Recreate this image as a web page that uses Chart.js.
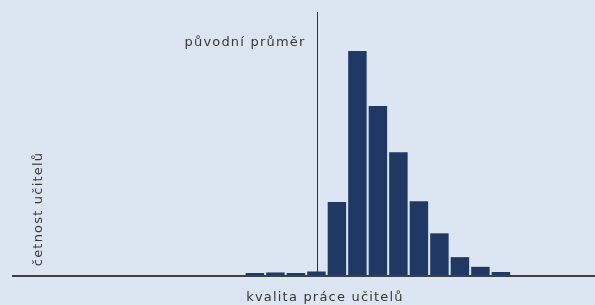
<!DOCTYPE html>
<html>
<head>
<meta charset="utf-8">
<script src="https://cdn.jsdelivr.net/npm/chart.js@4"></script>
<style>
  html, body { margin: 0; padding: 0; background: #dce6f2; }
  #wrap { width: 595px; height: 305px; }
</style>
</head>
<body>
<div id="wrap"><canvas id="chart"></canvas></div>
<script>
// quality bins (teacher quality levels) and share of teachers in each, %
const qualityBins = [1, 2, 3, 4, 5, 6, 7, 8, 9, 10, 11, 12, 13];
const teacherShare = [0.27, 0.34, 0.27, 0.47, 9.8, 30.1, 22.7, 16.5, 9.9, 5.6, 2.4, 1.1, 0.4];
const originalMean = 4.05;

const meanLabel = 'původní průměr';
const xTitle = 'kvalita práce učitelů';
const yTitle = 'četnost učitelů';

const TEXT = '#383838';
const FONT = '13px "DejaVu Sans", Verdana, sans-serif';

const decorPlugin = {
  id: 'decor',
  beforeDraw(chart) {
    const c = chart.ctx;
    c.save();
    c.fillStyle = '#dce6f2';
    c.fillRect(0, 0, chart.width, chart.height);
    c.restore();
  },
  afterDatasetsDraw(chart) {
    const c = chart.ctx;
    const { x, y } = chart.scales;
    const area = chart.chartArea;
    const base = y.getPixelForValue(0);

    c.save();
    // original mean marker
    const mx = Math.round(x.getPixelForValue(originalMean)) + 0.5;
    c.strokeStyle = '#333333';
    c.lineWidth = 1;
    c.beginPath();
    c.moveTo(mx, area.top);
    c.lineTo(mx, base);
    c.stroke();

    // baseline
    c.strokeStyle = '#404040';
    c.lineWidth = 2;
    c.beginPath();
    c.moveTo(area.left, base + 1);
    c.lineTo(area.right, base + 1);
    c.stroke();

    c.fillStyle = TEXT;
    c.font = FONT;
    c.letterSpacing = '1.2px';
    c.textAlign = 'left';
    c.textBaseline = 'alphabetic';
    const w1 = c.measureText(meanLabel).width;
    c.fillText(meanLabel, mx - 12 - w1, 45.5);

    const w2 = c.measureText(xTitle).width;
    c.fillText(xTitle, 325 - w2 / 2, 301);

    const w3 = c.measureText(yTitle).width;
    c.translate(41.5, 209);
    c.rotate(-Math.PI / 2);
    c.fillText(yTitle, -w3 / 2, 0);
    c.restore();
  }
};

new Chart(document.getElementById('chart'), {
  type: 'bar',
  data: {
    datasets: [{
      data: qualityBins.map((q, i) => ({ x: q, y: teacherShare[i] })),
      backgroundColor: '#1f3864',
      borderWidth: 0,
      categoryPercentage: 1,
      barPercentage: 0.9
    }]
  },
  options: {
    responsive: true,
    maintainAspectRatio: false,
    animation: false,
    layout: { padding: { left: 12, right: 0, top: 12, bottom: 30 } },
    plugins: { legend: { display: false }, tooltip: { enabled: false } },
    scales: {
      x: { type: 'linear', min: -10.85, max: 17.59, offset: false, display: false },
      y: { min: 0, max: 35.35, display: false }
    }
  },
  plugins: [decorPlugin]
});
</script>
</body>
</html>
